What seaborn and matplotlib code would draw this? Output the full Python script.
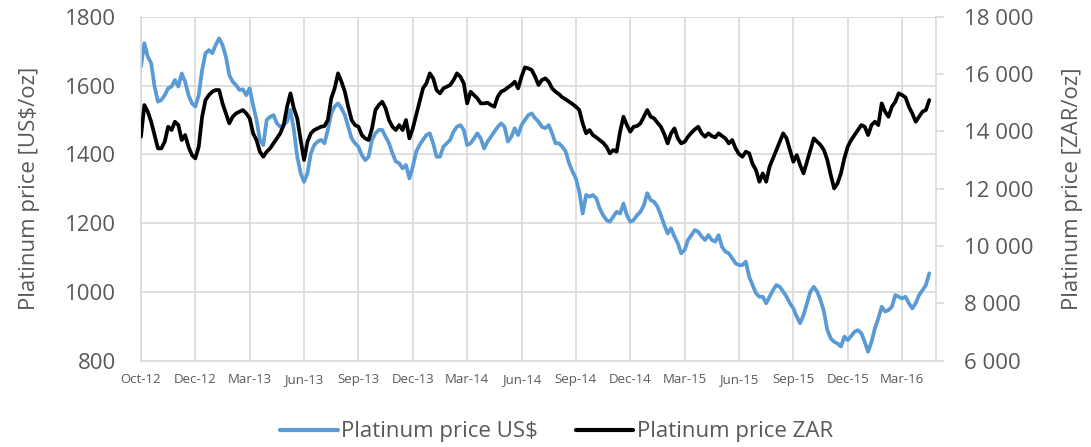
import numpy as np
import pandas as pd
import matplotlib.pyplot as plt
import seaborn as sns
from matplotlib.lines import Line2D

# Platinum prices, sampled every 4 trading days from Oct-12
price_usd = [
    1655, 1723, 1684, 1665, 1597, 1553, 1558, 1572, 1592, 1597,
    1616, 1597, 1635, 1611, 1572, 1548, 1539, 1572, 1645, 1694,
    1703, 1694, 1718, 1737, 1718, 1684, 1630, 1611, 1601, 1587,
    1589, 1572, 1592, 1543, 1500, 1442, 1427, 1500, 1509, 1514,
    1490, 1480, 1485, 1495, 1529, 1471, 1393, 1345, 1320, 1345,
    1403, 1427, 1437, 1442, 1432, 1471, 1519, 1539, 1548, 1534,
    1514, 1480, 1446, 1432, 1422, 1398, 1383, 1393, 1442, 1461,
    1471, 1471, 1451, 1432, 1403, 1379, 1374, 1359, 1369, 1330,
    1364, 1408, 1427, 1442, 1456, 1461, 1432, 1393, 1393, 1422,
    1432, 1442, 1466, 1480, 1485, 1471, 1427, 1432, 1446, 1461,
    1446, 1417, 1437, 1451, 1466, 1480, 1490, 1480, 1437, 1451,
    1476, 1456, 1485, 1500, 1514, 1519, 1505, 1495, 1480, 1476,
    1485, 1461, 1432, 1432, 1422, 1408, 1374, 1350, 1330, 1291,
    1228, 1282, 1277, 1282, 1272, 1243, 1223, 1209, 1204, 1219,
    1233, 1228, 1257, 1223, 1204, 1209, 1223, 1233, 1252, 1287,
    1267, 1262, 1248, 1223, 1195, 1170, 1185, 1161, 1141, 1112,
    1122, 1151, 1165, 1180, 1175, 1161, 1151, 1165, 1151, 1146,
    1165, 1131, 1117, 1112, 1098, 1083, 1078, 1078, 1088, 1044,
    1020, 996, 986, 986, 967, 986, 1005, 1020, 1015, 1001,
    986, 967, 952, 928, 909, 933, 967, 1001, 1015, 1001,
    976, 943, 889, 865, 855, 850, 841, 870, 860, 872,
    884, 889, 880, 855, 826, 855, 894, 923, 957, 943,
    947, 957, 991, 986, 981, 986, 967, 952, 967, 991,
    1005, 1020, 1054,
]

price_zar = [
    13814, 14919, 14687, 14338, 13872, 13407, 13407, 13640, 14163, 14047,
    14338, 14221, 13698, 13872, 13465, 13175, 13058, 13465, 14512, 15094,
    15268, 15384, 15442, 15442, 14977, 14628, 14280, 14512, 14628, 14687,
    14745, 14628, 14454, 13931, 13698, 13291, 13116, 13291, 13407, 13582,
    13756, 13931, 14221, 14861, 15326, 14803, 14454, 13698, 13000, 13640,
    13931, 14047, 14105, 14163, 14186, 14396, 15152, 15500, 16024, 15733,
    15384, 14861, 14396, 14221, 14163, 13872, 13756, 13698, 14105, 14745,
    14919, 15036, 14803, 14396, 14163, 14047, 14221, 14047, 14396, 13756,
    14105, 14570, 15036, 15500, 15675, 16024, 15850, 15442, 15326, 15500,
    15559, 15617, 15791, 16024, 15908, 15675, 14977, 15384, 15268, 15152,
    14977, 14977, 15000, 14919, 14861, 15210, 15384, 15442, 15535, 15617,
    15733, 15500, 15908, 16233, 16198, 16140, 15908, 15617, 15791, 15850,
    15733, 15500, 15384, 15303, 15187, 15117, 15036, 14954, 14861, 14745,
    14280, 13931, 14047, 13872, 13791, 13698, 13605, 13465, 13233, 13349,
    13291, 13989, 14512, 14221, 13989, 14163, 14186, 14280, 14512, 14745,
    14512, 14454, 14303, 14163, 13907, 13582, 13931, 14105, 13756, 13582,
    13640, 13814, 13954, 14070, 14163, 13931, 13814, 13931, 13838, 13791,
    13931, 13838, 13756, 13582, 13698, 13407, 13210, 13116, 13291, 13233,
    12861, 12651, 12244, 12535, 12244, 12768, 13058, 13349, 13640, 13931,
    13756, 13349, 12942, 13175, 12826, 12535, 12942, 13349, 13756, 13640,
    13524, 13349, 13000, 12477, 12012, 12186, 12535, 13058, 13465, 13698,
    13872, 14047, 14221, 14163, 13872, 14221, 14338, 14221, 14977, 14687,
    14512, 14861, 15036, 15326, 15268, 15187, 14861, 14628, 14338, 14512,
    14687, 14745, 15094,
]

tick_labels = ["Oct-12", "Dec-12", "Mar-13", "Jun-13", "Sep-13", "Dec-13", "Mar-14",
               "Jun-14", "Sep-14", "Dec-14", "Mar-15", "Jun-15", "Sep-15", "Dec-15",
               "Mar-16"]
points_per_label = 16

df = pd.DataFrame({"idx": np.arange(len(price_usd)),
                   "usd": price_usd, "zar": price_zar})

sns.set_style("white")
plt.rcParams["font.family"] = ["Open Sans", "DejaVu Sans"]

text_col = "#595959"
grid_col = "#d9d9d9"
blue = "#5b9bd5"

fig, ax = plt.subplots(figsize=(10.91, 4.47), dpi=100)
fig.subplots_adjust(left=0.1292, right=0.858, top=0.9626, bottom=0.193)
ax2 = ax.twinx()

sns.lineplot(data=df, x="idx", y="usd", ax=ax, color=blue, lw=2.7)
sns.lineplot(data=df, x="idx", y="zar", ax=ax2, color="black", lw=2.7)

ax.set_xlim(0, 234)
ax.set_ylim(800, 1800)
ax.set_yticks(np.arange(800, 1801, 200))
ax2.set_ylim(6000, 18000)
ax2.set_yticks(np.arange(6000, 18001, 2000))
ax2.set_yticklabels([f"{v:,}".replace(",", " ") for v in range(6000, 18001, 2000)])

ax.set_xticks(np.arange(len(tick_labels)) * points_per_label)
ax.set_xticklabels(tick_labels)

ax.grid(True, color=grid_col, lw=1.2)
ax.set_axisbelow(True)
ax2.grid(False)

for a in (ax, ax2):
    for s in a.spines.values():
        s.set_visible(False)
ax2.spines["right"].set_visible(True)
ax2.spines["right"].set_color(grid_col)
ax2.spines["right"].set_linewidth(1.2)
ax.spines["bottom"].set_visible(True)
ax.spines["bottom"].set_color(grid_col)
ax.spines["bottom"].set_linewidth(1.2)
ax.spines["left"].set_visible(True)
ax.spines["left"].set_color(grid_col)
ax.spines["left"].set_linewidth(1.2)

ax.tick_params(axis="y", length=0, pad=18, labelsize=16, labelcolor=text_col)
ax.tick_params(axis="x", length=0, pad=9, labelsize=9.5, labelcolor=text_col)
ax2.tick_params(axis="y", length=6, width=1.2, color=grid_col, pad=14,
                labelsize=16, labelcolor=text_col)

ax.set_xlabel("")
ax.set_ylabel("Platinum price [US$/oz]", fontsize=16, color=text_col)
ax.yaxis.set_label_coords(-0.127, 0.5)
ax2.set_ylabel("Platinum price [ZAR/oz]", fontsize=16, color=text_col)
ax2.yaxis.set_label_coords(1.158, 0.5)

handles = [Line2D([], [], color=blue, lw=3), Line2D([], [], color="black", lw=3)]
fig.legend(handles, ["Platinum price US$", "Platinum price ZAR"], loc="center",
           bbox_to_anchor=(0.51, 0.034), ncol=2, frameon=False, fontsize=16,
           labelcolor=text_col, handlelength=2.6, handletextpad=0.15, columnspacing=1.7)

fig.savefig("out.png", dpi=100)
